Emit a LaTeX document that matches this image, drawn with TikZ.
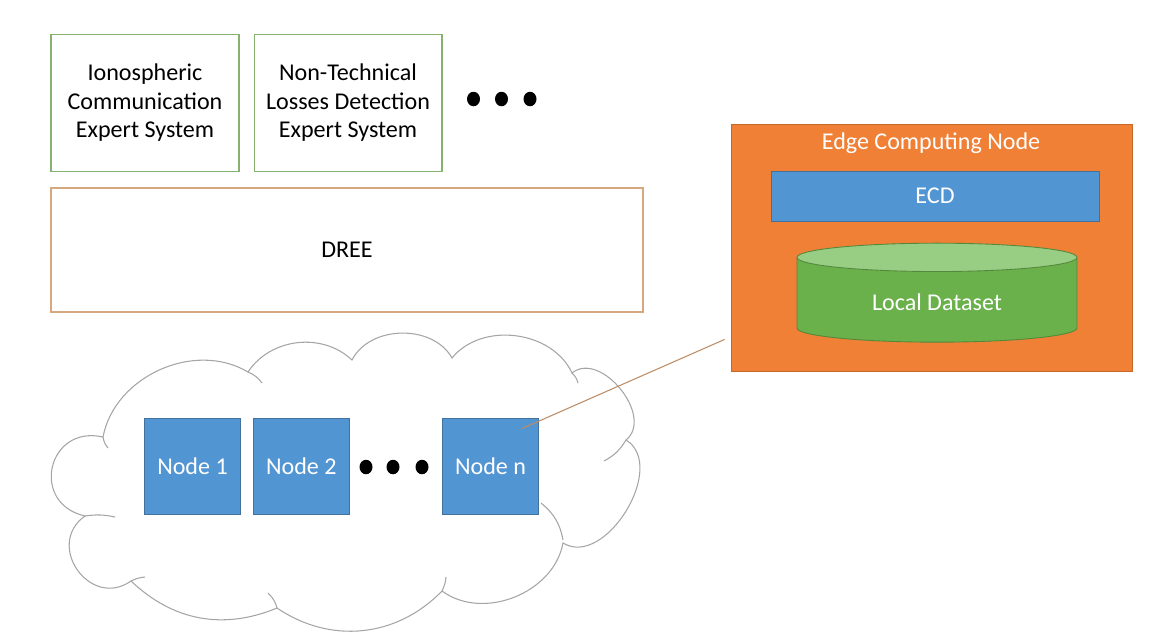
\documentclass[tikz,border=0pt]{standalone}
\usepackage{fontspec}
\setmainfont{Carlito}
\usepackage{xcolor}
\usepackage{tikz}
\usetikzlibrary{positioning,shapes.geometric}

\definecolor{expertline}{RGB}{133,178,110}
\definecolor{layerline}{RGB}{214,168,128}
\definecolor{edgeorange}{RGB}{239,128,54}
\definecolor{edgeline}{RGB}{196,104,42}
\definecolor{nodeblue}{RGB}{82,149,211}
\definecolor{blueline}{RGB}{65,113,156}
\definecolor{datagreen}{RGB}{106,177,76}
\definecolor{datatop}{RGB}{152,206,132}
\definecolor{dataline}{RGB}{84,136,60}
\definecolor{linkbrown}{RGB}{190,140,100}
\definecolor{cloudgray}{RGB}{165,165,165}

\tikzstyle{expert} = [rectangle, draw=expertline, line width=0.6pt, minimum width=3.76cm, minimum height=2.74cm, align=center]
\tikzstyle{layer} = [rectangle, draw=layerline, line width=0.7pt, minimum width=11.84cm, minimum height=2.48cm]
\tikzstyle{edgebox} = [rectangle, draw=edgeline, fill=edgeorange, line width=0.5pt, minimum width=8.02cm, minimum height=4.94cm]
\tikzstyle{ecd} = [rectangle, draw=blueline, fill=nodeblue, text=white, line width=0.5pt, minimum width=6.56cm, minimum height=1cm]
\tikzstyle{peer} = [rectangle, draw=blueline, fill=nodeblue, text=white, line width=0.5pt, minimum width=1.92cm, minimum height=1.92cm]
\tikzstyle{store} = [cylinder, shape border rotate=90, aspect=0.2, draw=dataline, line width=0.5pt, cylinder uses custom fill, cylinder body fill=datagreen, cylinder end fill=datatop, text=white, minimum width=5.6cm, minimum height=1.98cm]
\tikzstyle{dot} = [ellipse, fill=black, minimum width=0.26cm, minimum height=0.29cm, inner sep=0pt]
\tikzstyle{link} = [draw=linkbrown, line width=0.6pt]
\tikzstyle{puff} = [draw=cloudgray, line width=0.6pt]

\begin{document}
\begin{tikzpicture}[x=0.02cm, y=0.02cm, every node/.style={font=\fontsize{13.7pt}{16.2pt}\selectfont}]

	\useasboundingbox (0,0) rectangle (1162,-633);

	% cloud
	\draw [puff, fill=white] (103,-437) to[bend left=55] (248,-372) to[bend left=50] (352,-360)
		to[bend left=62] (452,-358) to[bend left=58] (572,-373) to[bend left=90, looseness=1.1] (626,-440)
		to[bend left=90, looseness=1.05] (563,-543) to[bend left=58] (442,-591) to[bend left=40] (277,-608)
		to[bend left=33] (131,-581) to[bend left=90, looseness=1.6] (85,-516) to[bend left=90, looseness=1.8] cycle;
	\draw [puff] (108,-448) to[bend left=15] (103,-437);
	\draw [puff] (248,-372) to[bend left=15] (262,-383);
	\draw [puff] (572,-373) to[bend left=15] (578,-383);
	\draw [puff] (626,-440) to[bend left=15] (604,-461);
	\draw [puff] (541,-503) to[bend left=20] (563,-540);
	\draw [puff] (446,-577) to[bend left=10] (442,-591);
	\draw [puff] (268,-593) to[bend left=15] (277,-608);
	\draw [puff] (131,-581) to[bend left=10] (145,-577);
	\draw [puff] (85,-516) to[bend left=10] (115,-517);

	\node (iono) [expert] at (145,-103) {Ionospheric\\Communication\\Expert System};
	\node (ntl) [expert, right=0.28cm of iono] {Non-Technical\\Losses Detection\\Expert System};
	\node (dotA) [dot] at (473.5,-99) {};
	\node (dotB) [dot] at (501.5,-99) {};
	\node (dotC) [dot] at (530,-99) {};
	\node (dree) [layer] at (347,-250) {DREE};

	\node (edge) [edgebox] at (931.5,-247.5) {};
	\node (edgetitle) [text=white] at (931,-143) {Edge Computing Node};
	\node (ecd) [ecd] at (935,-196) {ECD};
	\node (data) [store] at (937,-302) {Local Dataset};

	\node (node1) [peer] at (192.5,-466) {Node 1};
	\node (node2) [peer, right=0.24cm of node1] {Node 2};
	\node (dotD) [dot] at (366,-467) {};
	\node (dotE) [dot] at (393,-467) {};
	\node (dotF) [dot] at (422,-467) {};
	\node (noden) [peer] at (490.5,-466) {Node n};

	\draw [link] ([shift={(-0.34cm,-0.22cm)}]noden.north east) -- ([shift={(-0.12cm,0.64cm)}]edge.south west);

\end{tikzpicture}
\end{document}
